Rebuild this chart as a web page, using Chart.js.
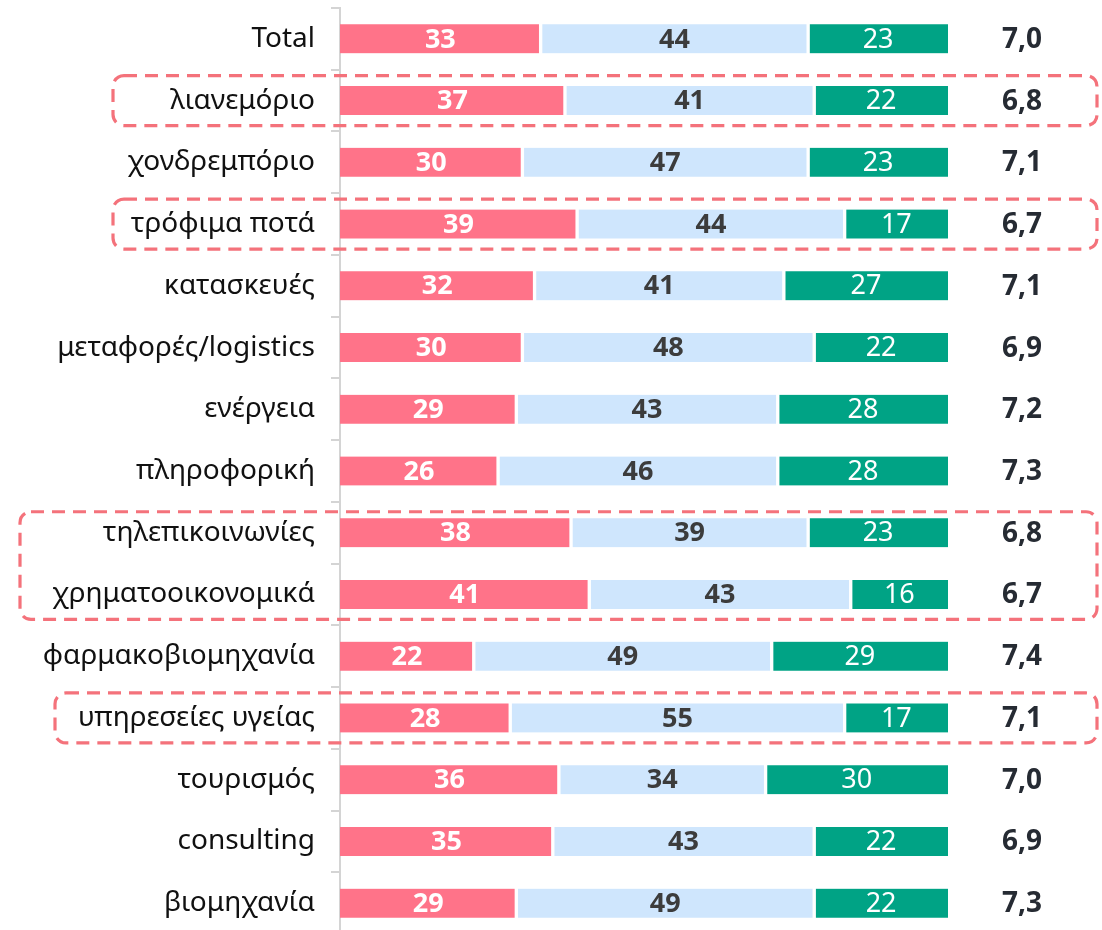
<!DOCTYPE html>
<html>
<head>
<meta charset="utf-8">
<script src="https://cdn.jsdelivr.net/npm/chart.js@4"></script>
<style>
    html, body { margin: 0; padding: 0; background: #fff; overflow: hidden; }
    #wrap { width: 1102px; height: 934px; }
</style>
</head>
<body>
<div id="wrap"><canvas id="chart"></canvas></div>
<script>
const categories = ['Total', 'λιανεμόριο', 'χονδρεμπόριο', 'τρόφιμα ποτά', 'κατασκευές',
    'μεταφορές/logistics', 'ενέργεια', 'πληροφορική', 'τηλεπικοινωνίες', 'χρηματοοικονομικά',
    'φαρμακοβιομηχανία', 'υπηρεσείες υγείας', 'τουρισμός', 'consulting', 'βιομηχανία'];
const lowValues = [33, 37, 30, 39, 32, 30, 29, 26, 38, 41, 22, 28, 36, 35, 29];
const midValues = [44, 41, 47, 44, 41, 48, 43, 46, 39, 43, 49, 55, 34, 43, 49];
const highValues = [23, 22, 23, 17, 27, 22, 28, 28, 23, 16, 29, 17, 30, 22, 22];
const scores = ['7,0', '6,8', '7,1', '6,7', '7,1', '6,9', '7,2', '7,3', '6,8', '6,7', '7,4', '7,1', '7,0', '6,9', '7,3'];
// rows that get a dashed frame (first index, last index)
const highlighted = [[1, 1], [3, 3], [8, 9], [11, 11]];

const FONT = '"Noto Sans", "Open Sans", sans-serif';

const labelStyles = [
    { color: '#ffffff', weight: 'bold' },
    { color: '#3c3c3c', weight: 'bold' },
    { color: '#ffffff', weight: 'normal' }
];

const valueLabels = {
    id: 'valueLabels',
    afterDatasetsDraw(chart) {
        const ctx = chart.ctx;
        ctx.save();
        ctx.textAlign = 'center';
        ctx.textBaseline = 'middle';
        chart.data.datasets.forEach((ds, i) => {
            const meta = chart.getDatasetMeta(i);
            const st = labelStyles[i];
            ctx.fillStyle = st.color;
            ctx.font = st.weight + ' 27px ' + FONT;
            meta.data.forEach((bar, j) => {
                const x = (bar.base + bar.x) / 2;
                ctx.fillText(String(ds.data[j]), x, bar.y + 1);
            });
        });
        // score column on the right
        const yScale = chart.scales.y;
        ctx.fillStyle = '#262b33';
        ctx.font = 'bold 28px ' + FONT;
        scores.forEach((s, j) => {
            ctx.fillText(s, 1022, yScale.getPixelForValue(j) + 1);
        });
        ctx.restore();
    }
};

// hand placed frames, left edges as in the original
const frameLeft = [113, 113, 20, 55];

const frames = {
    id: 'frames',
    afterDraw(chart) {
        const ctx = chart.ctx;
        const yScale = chart.scales.y;
        ctx.save();
        ctx.strokeStyle = '#f4727b';
        ctx.lineWidth = 3.2;
        ctx.setLineDash([13, 8]);
        highlighted.forEach(([a, b], k) => {
            const left = frameLeft[k];
            const top = yScale.getPixelForValue(a) - (a === b ? 25 : 21);
            const bottom = yScale.getPixelForValue(b) + 25;
            ctx.beginPath();
            ctx.roundRect(left, top, 1097 - left, bottom - top, 11);
            ctx.stroke();
        });
        ctx.restore();
    }
};

const ctx = document.getElementById('chart').getContext('2d');
new Chart(ctx, {
    type: 'bar',
    data: {
        labels: categories,
        datasets: [{
            data: lowValues,
            backgroundColor: '#ff7389',
            borderColor: '#ffffff',
            borderWidth: { left: 0, right: 2, top: 0, bottom: 0 },
            borderSkipped: false
        },
        {
            data: midValues,
            backgroundColor: '#cfe6fd',
            borderColor: '#ffffff',
            borderWidth: { left: 2, right: 2, top: 0, bottom: 0 },
            borderSkipped: false
        },
        {
            data: highValues,
            backgroundColor: '#00a385',
            borderColor: '#ffffff',
            borderWidth: { left: 2, right: 0, top: 0, bottom: 0 },
            borderSkipped: false
        }]
    },
    options: {
        indexAxis: 'y',
        responsive: true,
        maintainAspectRatio: false,
        animation: false,
        barThickness: 29,
        layout: { padding: { left: 0, right: 154, top: 8, bottom: 0 } },
        plugins: {
            legend: { display: false },
            tooltip: { enabled: false }
        },
        scales: {
            x: {
                stacked: true,
                min: 0,
                max: 100,
                display: false
            },
            y: {
                stacked: true,
                afterFit: (scale) => {
                    scale.width = 340;
                    scale.paddingTop = 0;
                    scale.paddingBottom = 0;
                },
                border: { display: true, color: '#d4d4d4', width: 2 },
                grid: {
                    display: true,
                    offset: true,
                    drawOnChartArea: false,
                    drawTicks: true,
                    tickLength: 9,
                    color: '#d4d4d4',
                    lineWidth: 2
                },
                ticks: {
                    color: '#111111',
                    padding: 16,
                    font: { family: FONT, size: 28 }
                }
            }
        }
    },
    plugins: [valueLabels, frames]
});
</script>
</body>
</html>
